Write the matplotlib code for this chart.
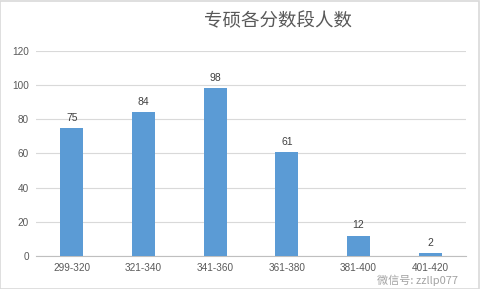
import matplotlib
matplotlib.use("Agg")
import matplotlib.pyplot as plt
from matplotlib.patches import Rectangle

plt.rcParams['font.family'] = ['Noto Sans CJK SC', 'DejaVu Sans']

categories = ["299-320", "321-340", "341-360", "361-380", "381-400", "401-420"]
values = [75, 84, 98, 61, 12, 2]
yticks = [0, 20, 40, 60, 80, 100, 120]
title = "专硕各分数段人数"
watermark = "微信号: zzllp077"

fig = plt.figure(figsize=(4.8, 2.89), dpi=100)
fig.patch.set_facecolor("white")
fig.add_artist(Rectangle((0.001, 0.001), 0.997, 0.996, transform=fig.transFigure,
                         fill=False, edgecolor="#D9D9D9", linewidth=1.2))

ax = fig.add_axes([0.075, 0.114, 0.896, 0.71])
x = range(len(categories))
bars = ax.bar(x, values, width=0.32, color="#5B9BD5", zorder=3)
for xi, v in zip(x, values):
    ax.text(xi, v + 3, str(v), ha="center", va="bottom", fontsize=7.5, color="#404040",
            family=['Liberation Sans', 'DejaVu Sans'])

ax.set_xlim(-0.5, len(categories) - 0.5)
ax.set_ylim(0, 120)
ax.set_yticks(yticks)
ax.set_xticks(list(x))
ax.set_xticklabels(categories)
ax.grid(axis="y", color="#D9D9D9", linewidth=0.8, zorder=0)
for s in ["top", "right", "left"]:
    ax.spines[s].set_visible(False)
ax.spines["bottom"].set_color("#BFBFBF")
ax.spines["bottom"].set_linewidth(0.8)
ax.tick_params(axis="both", length=0, labelsize=7.2, colors="#595959", pad=5)
for lab in ax.get_xticklabels() + ax.get_yticklabels():
    lab.set_family(['Liberation Sans', 'DejaVu Sans'])

fig.text(0.58, 0.925, title, ha="center", va="center", fontsize=13.3, color="#595959")
fig.text(0.87, 0.03, watermark, ha="center", va="center", fontsize=8, color="#8C8C8C", alpha=0.8)

fig.savefig("out.png", dpi=100)
